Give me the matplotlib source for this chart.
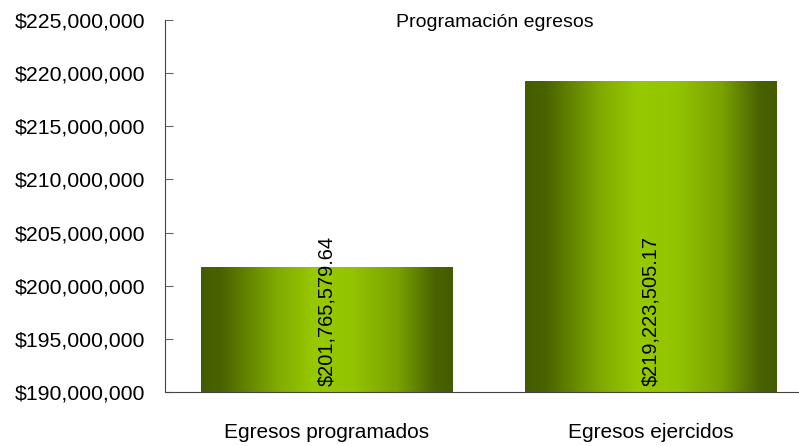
import numpy as np
import matplotlib.pyplot as plt
from matplotlib.colors import LinearSegmentedColormap
from matplotlib.ticker import FuncFormatter

plt.rcParams['font.family'] = ['Liberation Sans', 'DejaVu Sans']

# data
categories = ['Egresos programados', 'Egresos ejercidos']
values = [201765579.64, 219223505.17]
labels = ['$201,765,579.64', '$219,223,505.17']

fig = plt.figure(figsize=(7.99, 4.46), dpi=100)
ax = fig.add_axes([165 / 799, 1 - 392 / 446, 634 / 799, 372 / 446])

ymin, ymax = 190000000, 225000000
x = np.arange(len(categories))
bars = ax.bar(x, values, width=0.775, color='none', edgecolor='none')

# horizontal gradient fill: dark olive at the edges, bright green in the middle
cmap = LinearSegmentedColormap.from_list('olive', [
    (0.0, '#445c00'), (0.08, '#4a6300'), (0.3, '#80aa00'), (0.45, '#97c900'),
    (0.6, '#93c400'), (0.78, '#7aa200'), (0.93, '#4a6300'), (1.0, '#445c00')])
grad = np.linspace(0, 1, 256).reshape(1, -1)
for b in bars:
    x0, w = b.get_x(), b.get_width()
    im = ax.imshow(grad, cmap=cmap, aspect='auto', extent=[x0, x0 + w, ymin, b.get_height()],
                   zorder=2)
    im.set_clip_path(b)

for xi, lab in zip(x, labels):
    ax.text(xi, ymin + 600000, lab, rotation=90, ha='center', va='bottom', fontsize=14.4,
            color='black', zorder=3)

ax.set_xlim(-0.5, 1.457)
ax.set_ylim(ymin, ymax)
ax.set_yticks(np.arange(ymin, ymax + 1, 5000000))
ax.yaxis.set_major_formatter(FuncFormatter(lambda v, p: f'${v:,.0f}'))
ax.set_xticks(x)
ax.set_xticklabels(categories)

ax.tick_params(axis='y', direction='in', length=6, labelsize=15.3, pad=14, color='#666666')
ax.tick_params(axis='x', length=0, labelsize=15, pad=22)
ax.spines['top'].set_visible(False)
ax.spines['right'].set_visible(False)
ax.spines['left'].set_color('#444444')
ax.spines['bottom'].set_color('#444444')

ax.set_title('Programación egresos', fontsize=14, y=0.995, va='top', x=0.52)

fig.savefig('out.png', dpi=100)
